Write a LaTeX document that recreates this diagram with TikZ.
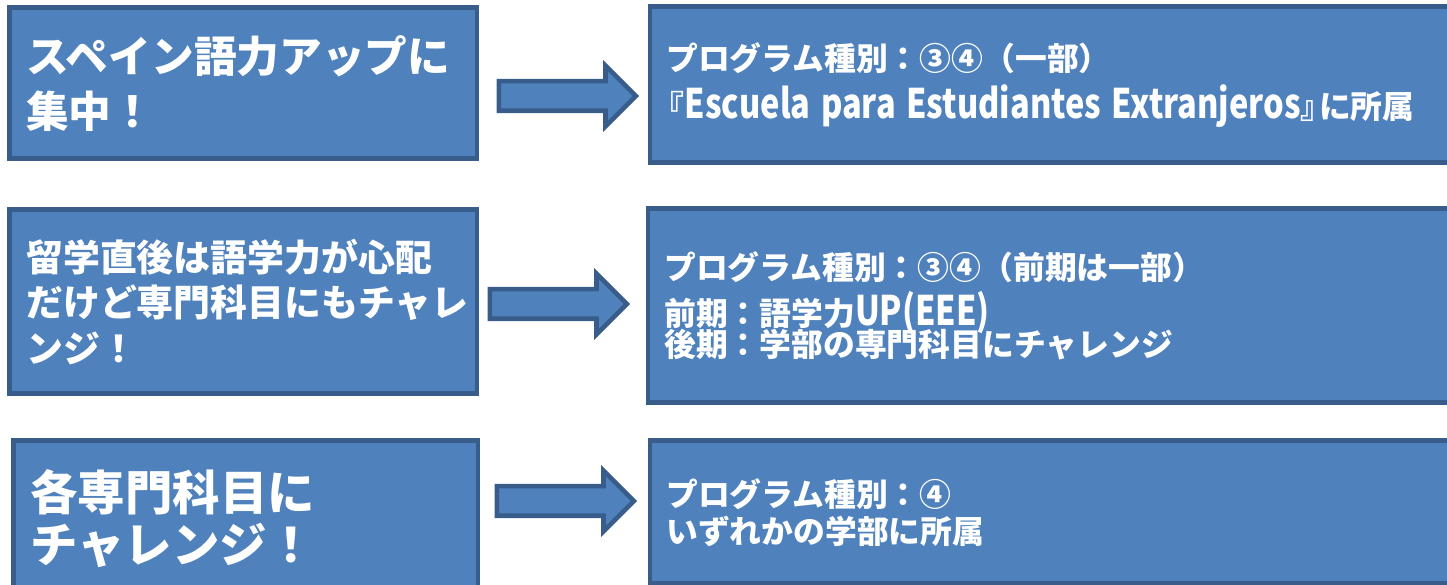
\documentclass[tikz,border=0pt]{standalone}
\usepackage{fontspec}
\setmainfont{Noto Sans CJK JP}
\newfontfamily\latnjp{Noto Sans CJK JP}[FakeStretch=0.8,Scale=1.28]
\newcommand{\lt}[1]{{\latnjp\bfseries #1}}
\usetikzlibrary{shapes.arrows}
\definecolor{boxfill}{HTML}{4F81BD}
\definecolor{boxline}{HTML}{385D8A}

\begin{document}
\begin{tikzpicture}[line join=miter,
  box/.style={draw=boxline,fill=boxfill,line width=2.6pt,text=white,
    anchor=north west,align=left,inner ysep=0pt,inner xsep=0.33cm},
  note/.style={box,font={\fontsize{18.1}{#1}\selectfont\bfseries\lineskiplimit=-20pt\relax}},
  bigarrow/.style={single arrow,draw=boxline,fill=boxfill,line width=2.6pt,
    anchor=tail,inner xsep=0pt,inner ysep=0.25cm,minimum height=2.74cm,
    single arrow head extend=0.31cm}]
\useasboundingbox (0,0) rectangle (28.94,11.7);
% left column
\node[box,minimum width=9.34cm,minimum height=3.02cm,text width=8.68cm,
  font=\fontsize{24.3}{31.2}\selectfont\bfseries] (l1) at (0.15,11.59)
  {スペイン語力アップに\\集中！};
\node[box,minimum width=9.34cm,minimum height=3.68cm,text width=8.68cm,
  font=\fontsize{21}{26}\selectfont\bfseries] (l2) at (0.15,7.55)
  {留学直後は語学力が心配\\だけど専門科目にもチャレ\\ンジ！};
\node[box,minimum width=9.28cm,minimum height=3.11cm,text width=8.62cm,
  font=\fontsize{27}{29.5}\selectfont\bfseries] (l3) at (0.23,2.93)
  {各専門科目に\\チャレンジ！};
% right column
\node[note=27.2pt,minimum width=16.44cm,minimum height=3.12cm,text width=15.78cm] (r1) at (12.95,11.61)
  {プログラム種別：③④（一部）\\\hspace*{-0.42em}『\lt{Escuela para Estudiantes Extranjeros}』\kern-0.42em に所属};
\node[note=18.1pt,minimum width=16.49cm,minimum height=3.88cm,text width=15.83cm] (r2) at (12.91,7.57)
  {プログラム種別：③④（前期は一部）\\[8pt]前期：語学力\lt{UP(EEE)}\\後期：学部の専門科目にチャレンジ};
\node[note=21pt,minimum width=16.44cm,minimum height=2.86cm,text width=15.78cm] (r3) at (12.95,2.93)
  {プログラム種別：④\\いずれかの学部に所属};
% arrows
\node[bigarrow] (a1) at (9.93,9.78) {};
\node[bigarrow] (a2) at (9.75,5.62) {};
\node[bigarrow] (a3) at (9.89,1.68) {};
\end{tikzpicture}
\end{document}
